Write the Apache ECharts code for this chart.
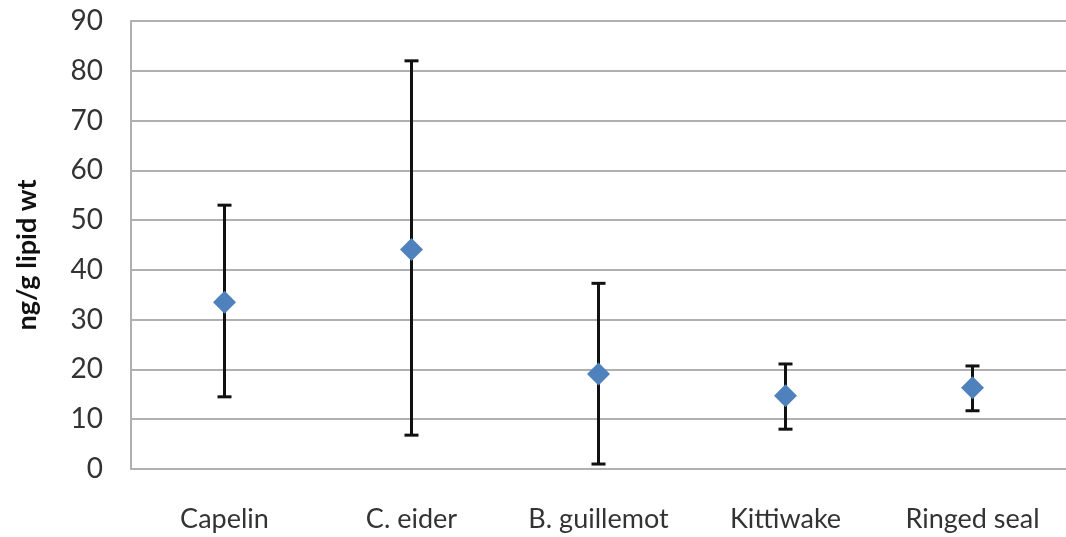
<!DOCTYPE html>
<html>
<head>
<meta charset="utf-8">
<script src="https://cdn.jsdelivr.net/npm/echarts@6/dist/echarts.min.js"></script>
<style>
html,body{margin:0;padding:0;background:#fff;}
#chart{width:1066px;height:537px;}
</style>
</head>
<body>
<div id="chart"></div>
<script>
const categories = ['Capelin', 'C. eider', 'B. guillemot', 'Kittiwake', 'Ringed seal'];
const means = [33.5, 44.1, 19.1, 14.7, 16.3];
const lows = [14.5, 6.8, 1.0, 8.0, 11.7];
const highs = [53.0, 82.0, 37.3, 21.1, 20.7];
const yTicks = [0, 10, 20, 30, 40, 50, 60, 70, 80, 90];

const errData = categories.map((c, i) => [i, lows[i], highs[i]]);
const chart = echarts.init(document.getElementById('chart'), null, {renderer: 'canvas'});
const font = 'Lato, "Open Sans", sans-serif';
chart.setOption({
  animation: false,
  grid: {left: 131, top: 21, width: 940, height: 448, containLabel: false},
  xAxis: {
    type: 'category',
    data: categories,
    boundaryGap: true,
    axisLine: {show: false},
    axisTick: {show: false},
    axisLabel: {color: '#333', fontSize: 27, fontFamily: font, margin: 37}
  },
  yAxis: {
    type: 'value',
    min: yTicks[0], max: yTicks[yTicks.length - 1], interval: 10,
    name: 'ng/g lipid wt',
    nameLocation: 'middle',
    nameGap: 90,
    nameRotate: 90,
    nameTextStyle: {color: '#111', fontSize: 27, fontWeight: 'bold', fontFamily: font, padding: [0, 20, 0, 0]},
    axisLine: {show: true, lineStyle: {color: '#b0b0b0', width: 2}},
    axisTick: {show: false},
    axisLabel: {color: '#333', fontSize: 28, fontFamily: font, margin: 28},
    splitLine: {show: true, lineStyle: {color: '#b0b0b0', width: 2}}
  },
  series: [
    {
      type: 'custom',
      data: errData,
      z: 2,
      renderItem: function (params, api) {
        const x = api.value(0);
        const lo = api.coord([x, api.value(1)]);
        const hi = api.coord([x, api.value(2)]);
        const hw = 7;
        const style = {stroke: '#111', lineWidth: 3};
        return {
          type: 'group',
          children: [
            {type: 'line', shape: {x1: lo[0], y1: lo[1], x2: hi[0], y2: hi[1]}, style: style},
            {type: 'line', shape: {x1: lo[0] - hw, y1: lo[1], x2: lo[0] + hw, y2: lo[1]}, style: style},
            {type: 'line', shape: {x1: hi[0] - hw, y1: hi[1], x2: hi[0] + hw, y2: hi[1]}, style: style}
          ]
        };
      }
    },
    {
      type: 'scatter',
      data: means,
      symbol: 'diamond',
      symbolSize: [23, 23],
      z: 3,
      itemStyle: {color: '#4F81BD', opacity: 1}
    }
  ]
});
</script>
</body>
</html>
